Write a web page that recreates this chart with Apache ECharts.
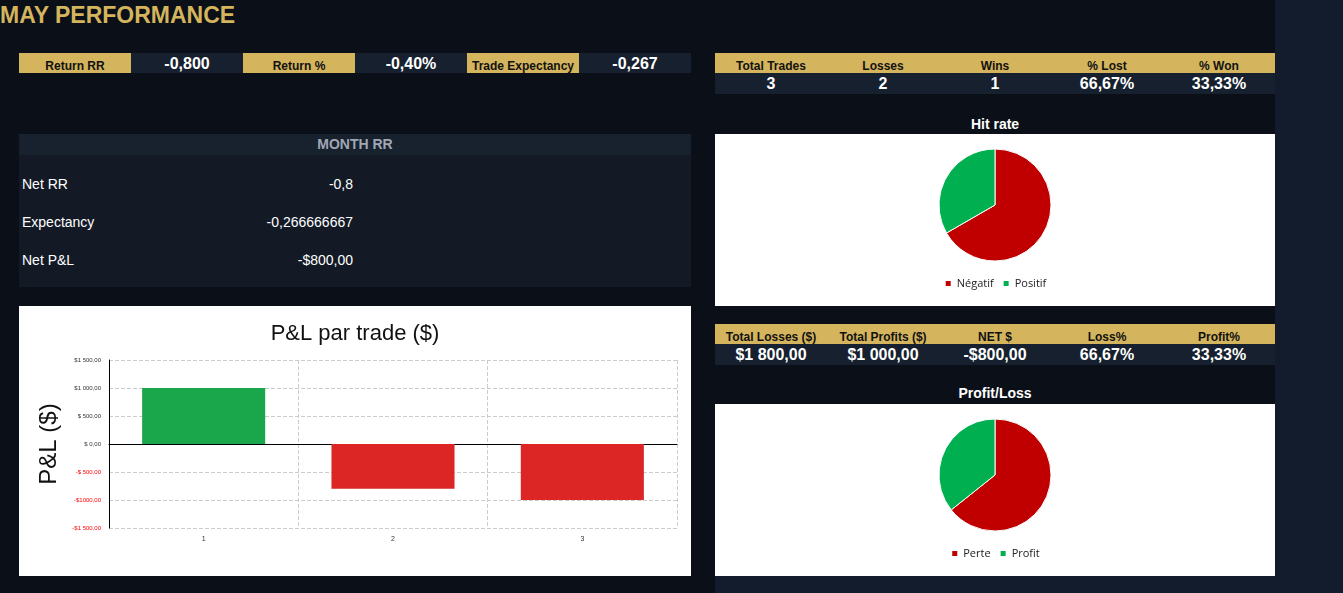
<!DOCTYPE html>
<html>
<head>
<meta charset="utf-8">
<script src="https://cdn.jsdelivr.net/npm/echarts@6/dist/echarts.min.js"></script>
<style>
body { margin: 0; width: 1343px; height: 593px; background: #0b0f18; font-family: "Liberation Sans", Arial, sans-serif; position: relative; overflow: hidden; }
.a { position: absolute; box-sizing: border-box; }
.gold { background: #d4b45c; color: #111; font-weight: bold; font-size: 12px; text-align: center; }
.cell { background: #16202e; color: #fff; font-weight: bold; text-align: center; }
.white { background: #fff; }
</style>
</head>
<body>
<div class="a" style="left:1275px;top:0;width:68px;height:593px;background:#131c2c"></div>
<div class="a" style="left:715px;top:576px;width:628px;height:17px;background:#131c2c"></div>
<div class="a" style="left:0;top:2px;color:#d4b45c;font-weight:bold;font-size:23px">MAY PERFORMANCE</div>
<div id="top"></div>
<div class="a" style="left:19px;top:134px;width:672px;height:153px;background:#131a26"></div>
<div class="a" style="left:19px;top:134px;width:672px;height:21px;background:#18212e;color:#a0a8b4;font-weight:bold;font-size:14px;text-align:center;line-height:21px">MONTH RR</div>
<div id="month"></div>
<div class="a" style="left:715px;top:116px;width:560px;text-align:center;color:#fff;font-weight:bold;font-size:14px">Hit rate</div>
<div class="a" style="left:715px;top:385px;width:560px;text-align:center;color:#fff;font-weight:bold;font-size:14px">Profit/Loss</div>
<div id="tables"></div>
<div id="bar" class="a white" style="left:19px;top:306px;width:672px;height:270px"></div>
<div id="pie1" class="a white" style="left:715px;top:134px;width:560px;height:172px"></div>
<div id="pie2" class="a white" style="left:715px;top:404px;width:560px;height:172px"></div>
<script>
var kpiLabels = ['Return RR', 'Return %', 'Trade Expectancy'];
var kpiValues = ['-0,800', '-0,40%', '-0,267'];
var monthLabels = ['Net RR', 'Expectancy', 'Net P&L'];
var monthValues = ['-0,8', '-0,266666667', '-$800,00'];
var countHeaders = ['Total Trades', 'Losses', 'Wins', '% Lost', '% Won'];
var countValues = ['3', '2', '1', '66,67%', '33,33%'];
var moneyHeaders = ['Total Losses ($)', 'Total Profits ($)', 'NET $', 'Loss%', 'Profit%'];
var moneyValues = ['$1 800,00', '$1 000,00', '-$800,00', '66,67%', '33,33%'];
var trades = ['1', '2', '3'];
var pnl = [1000, -800, -1000];
var hitNames = ['Négatif', 'Positif'];
var hitValues = [2, 1];
var plNames = ['Perte', 'Profit'];
var plValues = [1800, 1000];

var html = '';
for (var i = 0; i < kpiLabels.length; i++) {
    var x = 19 + i * 224;
    html += '<div class="a gold" style="left:' + x + 'px;top:53px;width:112px;height:20px;line-height:26px">' + kpiLabels[i] + '</div>';
    html += '<div class="a cell" style="left:' + (x + 112) + 'px;top:53px;width:112px;height:20px;line-height:22px;font-size:16px">' + kpiValues[i] + '</div>';
}
document.getElementById('top').innerHTML = html;

html = '';
for (var i = 0; i < monthLabels.length; i++) {
    var y = 176 + i * 38;
    html += '<div class="a" style="left:22px;top:' + y + 'px;color:#fff;font-size:14px">' + monthLabels[i] + '</div>';
    html += '<div class="a" style="left:150px;width:203px;text-align:right;top:' + y + 'px;color:#fff;font-size:14px">' + monthValues[i] + '</div>';
}
document.getElementById('month').innerHTML = html;

function table(headers, values, top) {
    var s = '';
    for (var i = 0; i < headers.length; i++) {
        var x = 715 + i * 112;
        s += '<div class="a gold" style="left:' + x + 'px;top:' + top + 'px;width:112px;height:20px;line-height:26px">' + headers[i] + '</div>';
        s += '<div class="a cell" style="left:' + x + 'px;top:' + (top + 20) + 'px;width:112px;height:21px;line-height:22px;font-size:16px">' + values[i] + '</div>';
    }
    return s;
}
document.getElementById('tables').innerHTML = table(countHeaders, countValues, 53) + table(moneyHeaders, moneyValues, 324);

var barChart = echarts.init(document.getElementById('bar'));
barChart.setOption({
    animation: false,
    title: { text: 'P&L par trade ($)', left: 'center', top: 12, textStyle: { fontSize: 22, fontWeight: 'normal', color: '#111' } },
    grid: { left: 90, right: 14, top: 54, bottom: 48, outerBoundsMode: 'none' },
    xAxis: {
        type: 'category', data: trades,
        name: 'Trade', nameLocation: 'middle', nameGap: 90, nameTextStyle: { fontSize: 22, color: '#111' },
        axisLine: { onZero: true, lineStyle: { color: '#000' } },
        axisTick: { show: false },
        axisLabel: { fontSize: 7, color: '#333', margin: 8 },
        splitLine: { show: true, lineStyle: { type: 'dashed', color: '#ccc' } }
    },
    yAxis: {
        type: 'value', min: -1500, max: 1500, interval: 500,
        name: 'P&L ($)', nameLocation: 'middle', nameGap: 44, nameTextStyle: { fontSize: 24, color: '#111' },
        axisLine: { show: true, lineStyle: { color: '#000' } },
        axisLabel: {
            fontSize: 6,
            color: function (v) { return v < 0 ? '#f00' : '#333'; },
            formatter: function (v) {
                var a = Math.abs(v);
                var s = a === 1500 ? '1 500,00' : (a === 1000 ? (v < 0 ? '1000,00' : '1 000,00') : (a === 0 ? ' 0,00' : ' ' + a + ',00'));
                return (v < 0 ? '-$' : '$') + s;
            }
        },
        splitLine: { lineStyle: { type: 'dashed', color: '#ccc' } }
    },
    series: [{
        type: 'bar', barWidth: '65%',
        data: pnl.map(function (v) { return { value: v, itemStyle: { color: v >= 0 ? '#1aa64b' : '#dc2626' } }; })
    }]
});

function pie(id, names, values) {
    var c = echarts.init(document.getElementById(id));
    c.setOption({
        animation: false,
        color: ['#c00000', '#00b050'],
        legend: { bottom: 12, left: 'center', itemWidth: 7, itemHeight: 7, icon: 'rect', itemGap: 8, textStyle: { fontSize: 11, color: '#222', fontFamily: 'Open Sans' } },
        series: [{
            type: 'pie', radius: 56, center: [280, 71], label: { show: false }, startAngle: 90,
            itemStyle: { borderColor: '#fff', borderWidth: 1 },
            data: names.map(function (n, i) { return { name: n, value: values[i] }; })
        }]
    });
}
pie('pie1', hitNames, hitValues);
pie('pie2', plNames, plValues);
</script>
</body>
</html>
